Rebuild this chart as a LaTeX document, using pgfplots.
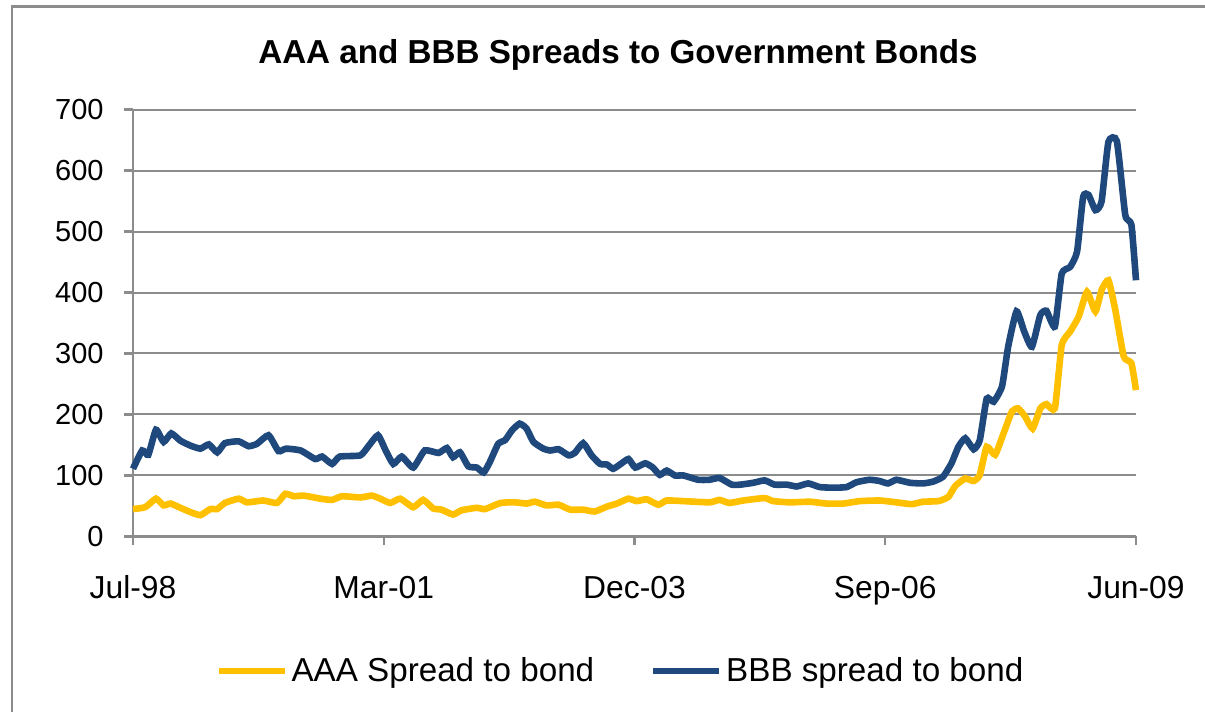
\documentclass[border=0pt]{standalone}
\usepackage{pgfplots}
\pgfplotsset{compat=1.18}
\usepackage{fontspec}
\setmainfont{Liberation Sans}
\definecolor{aaa}{HTML}{FFC000}
\definecolor{bbb}{HTML}{1F497D}
\definecolor{gridc}{HTML}{8C8C8C}
\begin{document}
\begin{tikzpicture}
\path[use as bounding box] (0,0) rectangle (602.5bp,356bp);
\draw[gridc, line width=1.2bp] (6bp,-1bp) -- (6bp,352.8bp) -- (603bp,352.8bp);
\node[anchor=base, font=\fontsize{16.6bp}{20bp}\selectfont\bfseries] at (309bp,324.4bp) {AAA and BBB Spreads to Government Bonds};
\begin{axis}[
  at={(66.5bp,87.75bp)}, anchor=south west,
  scale only axis, width=501.5bp, height=213.5bp,
  xmin=0, xmax=131, ymin=0, ymax=700,
  axis lines=left, axis line style={gridc, line width=1.2bp, -},
  xtick={0,32.75,65.5,98.25,131},
  xticklabels={Jul-98,Mar-01,Dec-03,Sep-06,Jun-09},
  ytick={0,100,...,700},
  tick align=outside, major tick length=4.5bp,
  tick style={gridc, line width=1.2bp},
  ymajorgrids, grid style={gridc, line width=1bp},
  /pgf/number format/assume math mode=true,
  xticklabel style={font=\fontsize{15.9bp}{19bp}\selectfont, inner sep=0pt, anchor=north, yshift=-15bp},
  yticklabel style={font=\fontsize{14.5bp}{17bp}\selectfont, inner sep=0pt, anchor=east, xshift=-10bp},
  legend columns=2,
  legend style={at={(0.487,-0.315)}, anchor=center, draw=none, fill=none,
    font=\fontsize{16.6bp}{20bp}\selectfont,
    /tikz/every even column/.append style={column sep=26bp},
    inner sep=0pt, cells={anchor=west}},
  legend image code/.code={\draw[#1, line width=3bp] (0bp,0bp) -- (33bp,0bp);},
  clip=false,
]
\addplot[aaa, line width=3.3bp, smooth, tension=0.3] coordinates {
(0,45)(1.6,48)(3,62)(4,51)(4.9,54)(6.2,47)(7.5,40)(8.8,35)(10.1,45)(11,45)(12,55)(13.8,62)(14.9,56)(17,59)(18.8,55)(19.9,70)(21,66)(22.3,67)(24.5,62)(26,60)(27.3,66)(29.7,64)(31.2,67)(32.3,62)(33.6,55)(34.9,62)(36.6,48)(37.9,60)(39.2,46)(40.3,44)(41.8,36)(42.9,43)(44.9,47)(46,45)(48,55)(49.9,56)(51.4,54)(52.5,57)(54,51)(55.6,52)(57.1,44)(58.8,44)(60.3,41)(61.9,49)(63.2,54)(64.7,62)(65.8,58)(67.1,61)(68.6,52)(69.7,59)(71.9,58)(75.3,56)(76.6,60)(77.9,55)(79.7,59)(82.5,63)(83.6,58)(85.8,56)(88.4,57)(90.6,54)(92.8,54)(94.9,58)(97.5,59)(99.7,56)(101.7,53)(103.2,57)(105.2,58)(106.5,65)(107.4,83)(108.7,95)(109.8,91)(110.6,101)(111.5,147)(112.6,134)(113.7,169)(114.8,205)(115.6,210)(116.5,197)(117.5,177)(118.5,210)(119.3,217)(120.4,210)(121.3,314)(122.4,336)(123.5,360)(124.6,401)(125.7,369)(126.5,404)(127.4,420)(128.3,371)(129.4,295)(130.4,284)(131,240)
};
\addlegendentry{AAA Spread to bond}
\addplot[bbb, line width=3.3bp, smooth, tension=0.3] coordinates {
(0,111)(1.2,141)(2,134)(3,175)(4,155)(5,169)(6.2,157)(7.5,149)(8.8,144)(9.9,151)(11,138)(12,153)(13.8,156)(15.1,148)(16.2,152)(17.7,166)(19,140)(20,144)(21.9,141)(23.8,127)(24.7,131)(26,119)(27,131)(29.7,133)(30.8,149)(32,166)(33,141)(34,119)(35.1,131)(36.6,113)(38.1,141)(39.9,137)(41,145)(41.8,130)(42.7,138)(43.8,115)(44.9,113)(45.8,105)(46.6,122)(47.7,152)(48.6,158)(49.5,174)(50.5,185)(51.4,177)(52.3,155)(53.6,144)(54.5,141)(55.6,143)(56.9,133)(57.7,137)(58.8,153)(59.9,133)(61,119)(61.9,118)(62.7,111)(63.6,118)(64.7,127)(65.6,113)(66.9,120)(67.9,113)(68.8,101)(69.7,108)(70.8,100)(71.9,100)(73.8,93)(75.3,93)(76.6,96)(78.2,85)(79.3,85)(81,88)(82.5,92)(83.8,85)(85.4,85)(86.7,82)(88.2,87)(89.7,81)(91.5,80)(93.2,81)(94.5,89)(96.2,93)(97.5,91)(98.6,87)(99.7,93)(101.5,88)(103.2,87)(104.5,90)(105.8,98)(106.9,120)(107.8,147)(108.7,161)(109.8,143)(110.6,158)(111.5,226)(112.4,221)(113.5,246)(114.3,311)(115.4,369)(116.4,336)(117.4,311)(118.5,363)(119.3,370)(120.4,344)(121.3,431)(122.4,442)(123.3,467)(124.1,557)(124.8,560)(125.7,535)(126.5,549)(127.4,647)(128.5,648)(129.6,527)(130.4,511)(131,420)
};
\addlegendentry{BBB spread to bond}
\end{axis}
\end{tikzpicture}
\end{document}
